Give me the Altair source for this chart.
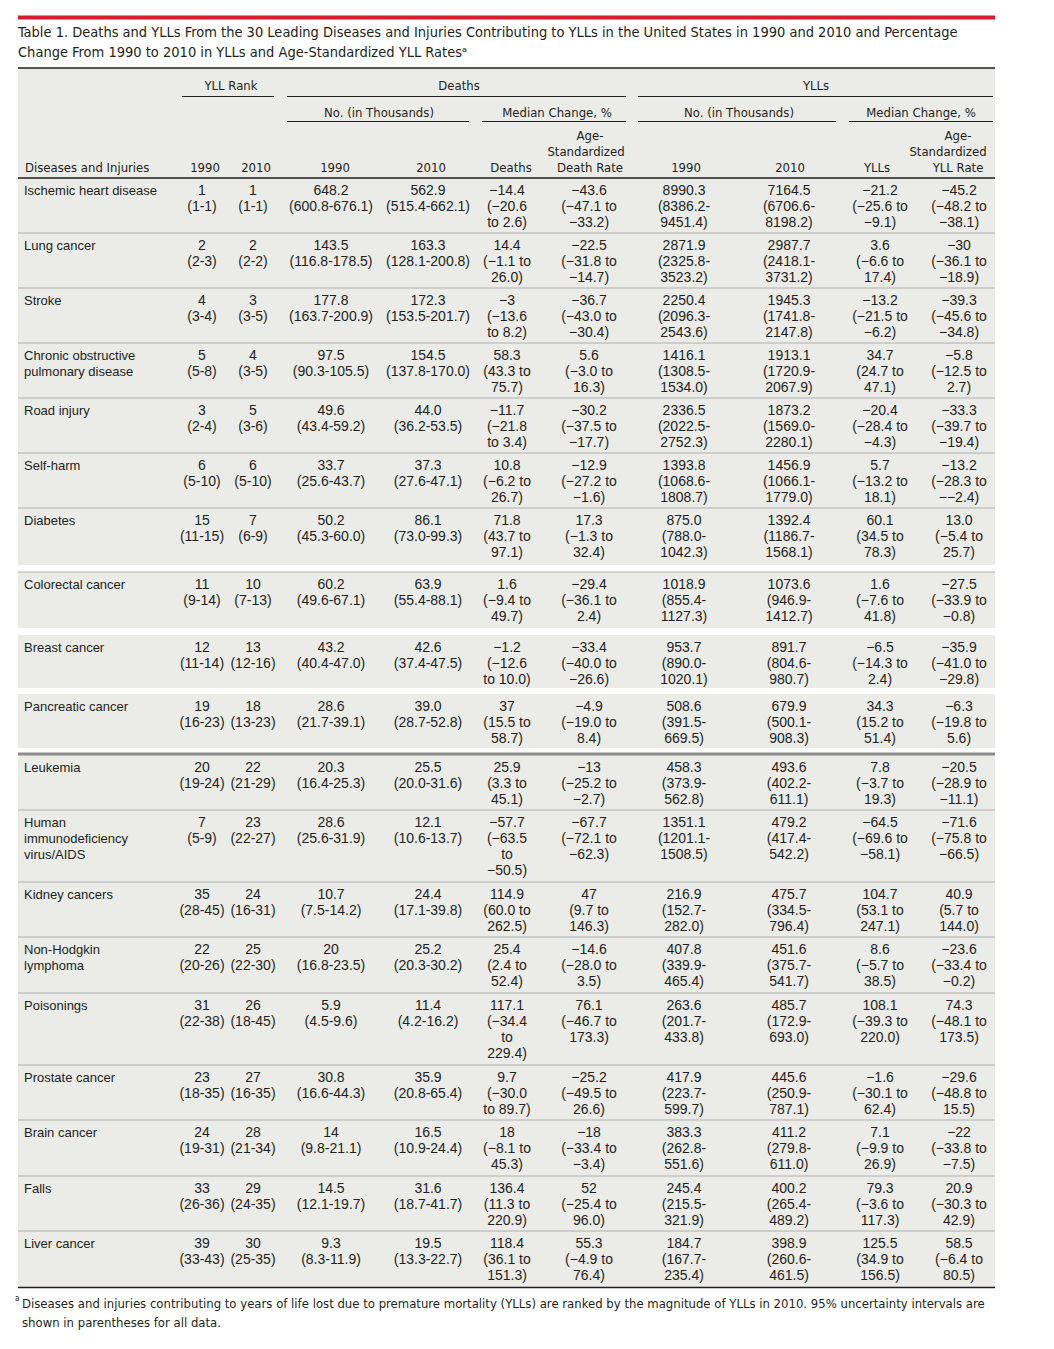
import re
import altair as alt
import pandas as pd

# ------------------------------------------------------------------ data
diseases = [
    "Ischemic heart disease", "Lung cancer", "Stroke",
    "Chronic obstructive\npulmonary disease", "Road injury", "Self-harm",
    "Diabetes", "Colorectal cancer", "Breast cancer", "Pancreatic cancer",
    "Leukemia", "Human\nimmunodeficiency\nvirus/AIDS", "Kidney cancers",
    "Non-Hodgkin\nlymphoma", "Poisonings", "Prostate cancer", "Brain cancer",
    "Falls", "Liver cancer",
]
rank_1990 = ["1", "2", "4", "5", "3", "6", "15", "11", "12", "19", "20", "7", "35", "22", "31", "23", "24", "33", "39"]
rank_1990_ui = ["1-1", "2-3", "3-4", "5-8", "2-4", "5-10", "11-15", "9-14", "11-14", "16-23",
                "19-24", "5-9", "28-45", "20-26", "22-38", "18-35", "19-31", "26-36", "33-43"]
rank_2010 = ["1", "2", "3", "4", "5", "6", "7", "10", "13", "18", "22", "23", "24", "25", "26", "27", "28", "29", "30"]
rank_2010_ui = ["1-1", "2-2", "3-5", "3-5", "3-6", "5-10", "6-9", "7-13", "12-16", "13-23",
                "21-29", "22-27", "16-31", "22-30", "18-45", "16-35", "21-34", "24-35", "25-35"]
deaths_1990 = ["648.2", "143.5", "177.8", "97.5", "49.6", "33.7", "50.2", "60.2", "43.2", "28.6",
               "20.3", "28.6", "10.7", "20", "5.9", "30.8", "14", "14.5", "9.3"]
deaths_1990_ui = ["600.8-676.1", "116.8-178.5", "163.7-200.9", "90.3-105.5", "43.4-59.2", "25.6-43.7",
                  "45.3-60.0", "49.6-67.1", "40.4-47.0", "21.7-39.1", "16.4-25.3", "25.6-31.9",
                  "7.5-14.2", "16.8-23.5", "4.5-9.6", "16.6-44.3", "9.8-21.1", "12.1-19.7", "8.3-11.9"]
deaths_2010 = ["562.9", "163.3", "172.3", "154.5", "44.0", "37.3", "86.1", "63.9", "42.6", "39.0",
               "25.5", "12.1", "24.4", "25.2", "11.4", "35.9", "16.5", "31.6", "19.5"]
deaths_2010_ui = ["515.4-662.1", "128.1-200.8", "153.5-201.7", "137.8-170.0", "36.2-53.5", "27.6-47.1",
                  "73.0-99.3", "55.4-88.1", "37.4-47.5", "28.7-52.8", "20.0-31.6", "10.6-13.7",
                  "17.1-39.8", "20.3-30.2", "4.2-16.2", "20.8-65.4", "10.9-24.4", "18.7-41.7", "13.3-22.7"]
deaths_change = ["−14.4", "14.4", "−3", "58.3", "−11.7", "10.8", "71.8", "1.6", "−1.2", "37",
                 "25.9", "−57.7", "114.9", "25.4", "117.1", "9.7", "18", "136.4", "118.4"]
deaths_change_ui = ["−20.6 to 2.6", "−1.1 to 26.0", "−13.6 to 8.2", "43.3 to 75.7", "−21.8 to 3.4",
                    "−6.2 to 26.7", "43.7 to 97.1", "−9.4 to 49.7", "−12.6 to 10.0", "15.5 to 58.7",
                    "3.3 to 45.1", "−63.5 to −50.5", "60.0 to 262.5", "2.4 to 52.4", "−34.4 to 229.4",
                    "−30.0 to 89.7", "−8.1 to 45.3", "11.3 to 220.9", "36.1 to 151.3"]
death_rate_change = ["−43.6", "−22.5", "−36.7", "5.6", "−30.2", "−12.9", "17.3", "−29.4", "−33.4", "−4.9",
                     "−13", "−67.7", "47", "−14.6", "76.1", "−25.2", "−18", "52", "55.3"]
death_rate_change_ui = ["−47.1 to −33.2", "−31.8 to −14.7", "−43.0 to −30.4", "−3.0 to 16.3",
                        "−37.5 to −17.7", "−27.2 to −1.6", "−1.3 to 32.4", "−36.1 to 2.4",
                        "−40.0 to −26.6", "−19.0 to 8.4", "−25.2 to −2.7", "−72.1 to −62.3",
                        "9.7 to 146.3", "−28.0 to 3.5", "−46.7 to 173.3", "−49.5 to 26.6",
                        "−33.4 to −3.4", "−25.4 to 96.0", "−4.9 to 76.4"]
ylls_1990 = ["8990.3", "2871.9", "2250.4", "1416.1", "2336.5", "1393.8", "875.0", "1018.9", "953.7", "508.6",
             "458.3", "1351.1", "216.9", "407.8", "263.6", "417.9", "383.3", "245.4", "184.7"]
ylls_1990_ui = ["8386.2-9451.4", "2325.8-3523.2", "2096.3-2543.6", "1308.5-1534.0", "2022.5-2752.3",
                "1068.6-1808.7", "788.0-1042.3", "855.4-1127.3", "890.0-1020.1", "391.5-669.5",
                "373.9-562.8", "1201.1-1508.5", "152.7-282.0", "339.9-465.4", "201.7-433.8",
                "223.7-599.7", "262.8-551.6", "215.5-321.9", "167.7-235.4"]
ylls_2010 = ["7164.5", "2987.7", "1945.3", "1913.1", "1873.2", "1456.9", "1392.4", "1073.6", "891.7", "679.9",
             "493.6", "479.2", "475.7", "451.6", "485.7", "445.6", "411.2", "400.2", "398.9"]
ylls_2010_ui = ["6706.6-8198.2", "2418.1-3731.2", "1741.8-2147.8", "1720.9-2067.9", "1569.0-2280.1",
                "1066.1-1779.0", "1186.7-1568.1", "946.9-1412.7", "804.6-980.7", "500.1-908.3",
                "402.2-611.1", "417.4-542.2", "334.5-796.4", "375.7-541.7", "172.9-693.0",
                "250.9-787.1", "279.8-611.0", "265.4-489.2", "260.6-461.5"]
yll_change = ["−21.2", "3.6", "−13.2", "34.7", "−20.4", "5.7", "60.1", "1.6", "−6.5", "34.3",
              "7.8", "−64.5", "104.7", "8.6", "108.1", "−1.6", "7.1", "79.3", "125.5"]
yll_change_ui = ["−25.6 to −9.1", "−6.6 to 17.4", "−21.5 to −6.2", "24.7 to 47.1", "−28.4 to −4.3",
                 "−13.2 to 18.1", "34.5 to 78.3", "−7.6 to 41.8", "−14.3 to 2.4", "15.2 to 51.4",
                 "−3.7 to 19.3", "−69.6 to −58.1", "53.1 to 247.1", "−5.7 to 38.5", "−39.3 to 220.0",
                 "−30.1 to 62.4", "−9.9 to 26.9", "−3.6 to 117.3", "34.9 to 156.5"]
yll_rate_change = ["−45.2", "−30", "−39.3", "−5.8", "−33.3", "−13.2", "13.0", "−27.5", "−35.9", "−6.3",
                   "−20.5", "−71.6", "40.9", "−23.6", "74.3", "−29.6", "−22", "20.9", "58.5"]
yll_rate_change_ui = ["−48.2 to −38.1", "−36.1 to −18.9", "−45.6 to −34.8", "−12.5 to 2.7",
                      "−39.7 to −19.4", "−28.3 to −−2.4", "−5.4 to 25.7", "−33.9 to −0.8",
                      "−41.0 to −29.8", "−19.8 to 5.6", "−28.9 to −11.1", "−75.8 to −66.5",
                      "5.7 to 144.0", "−33.4 to −0.2", "−48.1 to 173.5", "−48.8 to 15.5",
                      "−33.8 to −7.5", "−30.3 to 42.9", "−6.4 to 80.5"]

title_lines = [
    "Table 1. Deaths and YLLs From the 30 Leading Diseases and Injuries Contributing to YLLs in the United States in 1990 and 2010 and Percentage",
    "Change From 1990 to 2010 in YLLs and Age-Standardized YLL Rates\u1d43",
]
footnote_lines = [
    "Diseases and injuries contributing to years of life lost due to premature mortality (YLLs) are ranked by the magnitude of YLLs in 2010. 95% uncertainty intervals are",
    "shown in parentheses for all data.",
]

# ------------------------------------------------------------------ layout
W, H = 1030, 1335          # plot area; page margin is 8px
TL, TR = 18, 995           # table left / right edge (page px)
TXT = "#231f20"
GREY = "#ebebe8"
NUM_FONT = "Liberation Sans"
HEAD_FONT = "Liberation Sans Narrow, DejaVu Sans Condensed, Liberation Sans"
LH = 15.8

# (value list, interval list, x centre, wrap width)
columns = [
    (rank_1990, rank_1990_ui, 202, 99),
    (rank_2010, rank_2010_ui, 253, 99),
    (deaths_1990, deaths_1990_ui, 331, 99),
    (deaths_2010, deaths_2010_ui, 428, 99),
    (deaths_change, deaths_change_ui, 507, 8),
    (death_rate_change, death_rate_change_ui, 589, 9),
    (ylls_1990, ylls_1990_ui, 684, 8),
    (ylls_2010, ylls_2010_ui, 789, 8),
    (yll_change, yll_change_ui, 880, 9),
    (yll_rate_change, yll_rate_change_ui, 959, 9),
]
row_top = [178, 233, 288, 343, 398, 453, 508, 572, 635, 694, 755, 810, 882, 937, 993, 1065, 1120, 1176, 1231]
row_bot = [233, 288, 343, 398, 453, 508, 565, 628, 688, 748, 810, 882, 937, 993, 1065, 1120, 1176, 1231, 1287]


def wrap(s, width):
    units = []
    for wi, word in enumerate(s.split(" ")):
        for pi, p in enumerate(re.split(r"(?<=\d-)(?=\d)", word)):
            units.append((" " if (wi > 0 and pi == 0) else "", p))
    lines, cur = [], ""
    for sep, p in units:
        if not cur:
            cur = p
        elif len(cur) + len(sep) + len(p) <= width:
            cur += sep + p
        else:
            lines.append(cur)
            cur = p
    lines.append(cur)
    return lines


# text cells
cells, names = [], []
for i, name in enumerate(diseases):
    yb = row_top[i] + 12.3 + 5
    names.append({"x": 24, "y": yb, "text": name})
    for vals, uis, xc, wdt in columns:
        txt = "\n".join([vals[i]] + wrap("(" + uis[i] + ")", wdt))
        cells.append({"x": xc, "y": yb, "text": txt})
cells_df = pd.DataFrame(cells)
names_df = pd.DataFrame(names)

# backgrounds
bg = [{"x": TL, "x2": TR, "y": 68, "y2": 178, "c": GREY}]
for t, b in zip(row_top, row_bot):
    bg.append({"x": TL, "x2": TR, "y": t, "y2": b, "c": GREY})
bg.append({"x": TL, "x2": TR, "y": 15.5, "y2": 19.5, "c": "#cf2030"})
bg.append({"x": TL, "x2": TR, "y": 752.5, "y2": 755.5, "c": "#8c8c8c"})
bg_df = pd.DataFrame(bg)

# rules
rules = []
for yv in [68, 178, 1287.5]:
    rules.append({"x": TL, "x2": TR, "y": yv, "c": TXT, "w": 1.3})
for yv in [233, 288, 343, 398, 453, 508, 572, 810, 882, 937, 993, 1065, 1120, 1176, 1231]:
    rules.append({"x": TL, "x2": TR, "y": yv, "c": "#b0b0b0", "w": 1})
for a, b in [(182, 274), (287, 626), (638, 993)]:
    rules.append({"x": a, "x2": b, "y": 96.5, "c": TXT, "w": 1})
for a, b in [(287, 469), (482, 626), (638, 836), (849, 993)]:
    rules.append({"x": a, "x2": b, "y": 121.5, "c": TXT, "w": 1})
rules_df = pd.DataFrame(rules)

# header
hc = [("YLL Rank", 231, 85), ("Deaths", 459, 85), ("YLLs", 816, 85),
      ("No. (in Thousands)", 379, 112), ("Median Change, %", 557, 112),
      ("No. (in Thousands)", 739, 112), ("Median Change, %", 921, 112),
      ("Age-", 590, 135), ("Standardized", 586, 151), ("Death Rate", 590, 167),
      ("Age-", 958, 135), ("Standardized", 948, 151), ("YLL Rate", 958, 167),
      ("1990", 205, 167), ("2010", 256, 167), ("1990", 335, 167), ("2010", 431, 167),
      ("Deaths", 511, 167), ("1990", 686, 167), ("2010", 790, 167), ("YLLs", 877, 167)]
head_df = pd.DataFrame([{"text": t, "x": x, "y": y + 4.5} for t, x, y in hc])
head_left_df = pd.DataFrame([{"text": "Diseases and Injuries", "x": 25, "y": 171.5}])
title_df = pd.DataFrame([{"text": t, "x": 18, "y": 32 + 20 * k + 5} for k, t in enumerate(title_lines)])
foot_df = pd.DataFrame([{"text": t, "x": 22, "y": 1303 + 19 * k + 4.5} for k, t in enumerate(footnote_lines)])
sup_df = pd.DataFrame([{"text": "a", "x": 15, "y": 1301}])


def X(f):
    return alt.X(f"{f}:Q", scale=alt.Scale(domain=[8, 8 + W], nice=False, zero=False), axis=None)


def Y(f):
    return alt.Y(f"{f}:Q", scale=alt.Scale(domain=[8, 8 + H], nice=False, zero=False, reverse=True), axis=None)


bg_layer = alt.Chart(bg_df).mark_rect().encode(
    x=X("x"), x2="x2", y=Y("y"), y2="y2", color=alt.Color("c:N", scale=None))
rule_layer = alt.Chart(rules_df).mark_rule().encode(
    x=X("x"), x2="x2", y=Y("y"), color=alt.Color("c:N", scale=None), size=alt.Size("w:Q", scale=None))


def text_layer(df, align, font, size, lh=LH):
    return alt.Chart(df).mark_text(
        align=align, baseline="alphabetic", font=font, fontSize=size,
        lineBreak="\n", lineHeight=lh, color=TXT
    ).encode(x=X("x"), y=Y("y"), text="text:N")


chart = alt.layer(
    bg_layer,
    rule_layer,
    text_layer(cells_df, "center", NUM_FONT, 14),
    text_layer(names_df, "left", NUM_FONT, 13),
    text_layer(head_df, "center", HEAD_FONT, 13),
    text_layer(head_left_df, "left", HEAD_FONT, 13),
    text_layer(title_df, "left", HEAD_FONT, 14.5),
    text_layer(foot_df, "left", HEAD_FONT, 13),
    text_layer(sup_df, "left", HEAD_FONT, 8),
).properties(
    width=W, height=H, padding=0, autosize=alt.AutoSizeParams(type="none"),
    background="white",
).configure_view(strokeWidth=0)

chart.save("out.html", embed_options={"renderer": "svg", "actions": False})
